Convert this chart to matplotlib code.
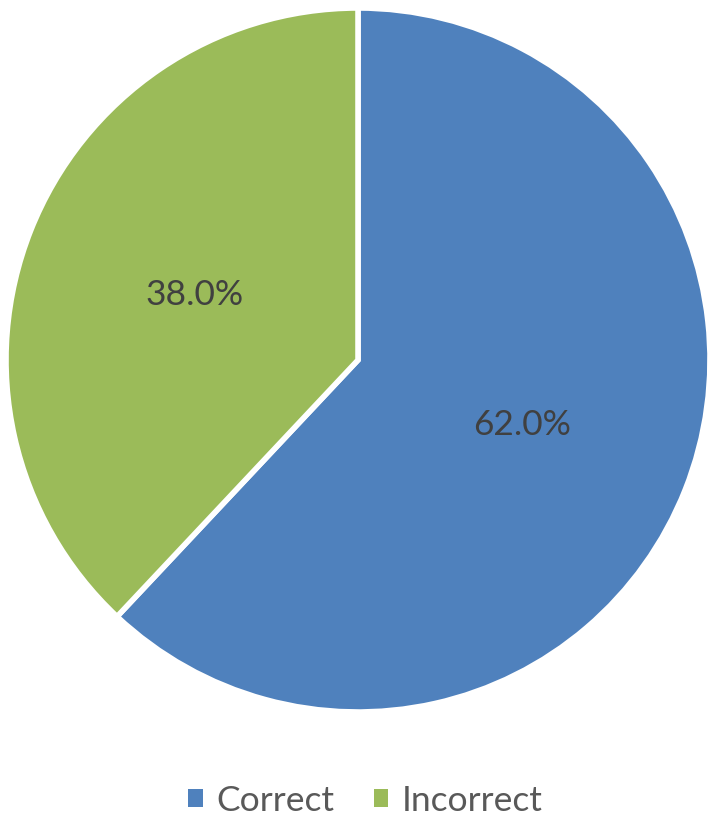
import matplotlib
matplotlib.use("Agg")
import matplotlib.pyplot as plt
from matplotlib.patches import Patch

plt.rcParams['font.family'] = ['Lato', 'DejaVu Sans']

labels = ["Correct", "Incorrect"]
shares = [62.0, 38.0]
colors = ["#4F81BD", "#9BBB59"]

fig = plt.figure(figsize=(7.17, 8.25), dpi=100)
# pie centre ~ (358, 360) px, radius ~352 px
ax = fig.add_axes([6 / 717, (825 - 712) / 825, 704 / 717, 704 / 825])

wedges, texts, autotexts = ax.pie(
    shares, colors=colors, startangle=90, counterclock=False,
    autopct="%.1f%%", pctdistance=0.5, radius=1.0,
    wedgeprops=dict(edgecolor="white", linewidth=4),
    textprops=dict(color="#404040", fontsize=25.5),
)
ax.set_xlim(-1, 1)
ax.set_ylim(-1, 1)
ax.set_aspect("equal")

handles = [Patch(facecolor=c, edgecolor="none") for c in colors]
fig.legend(handles, labels, loc="center", bbox_to_anchor=(0.51, 1 - 801 / 825),
           ncol=2, frameon=False, fontsize=25.5, labelcolor="#595959",
           handlelength=0.4, handleheight=0.4, handletextpad=0.4,
           columnspacing=1.1)

fig.savefig("out.png", dpi=100)
